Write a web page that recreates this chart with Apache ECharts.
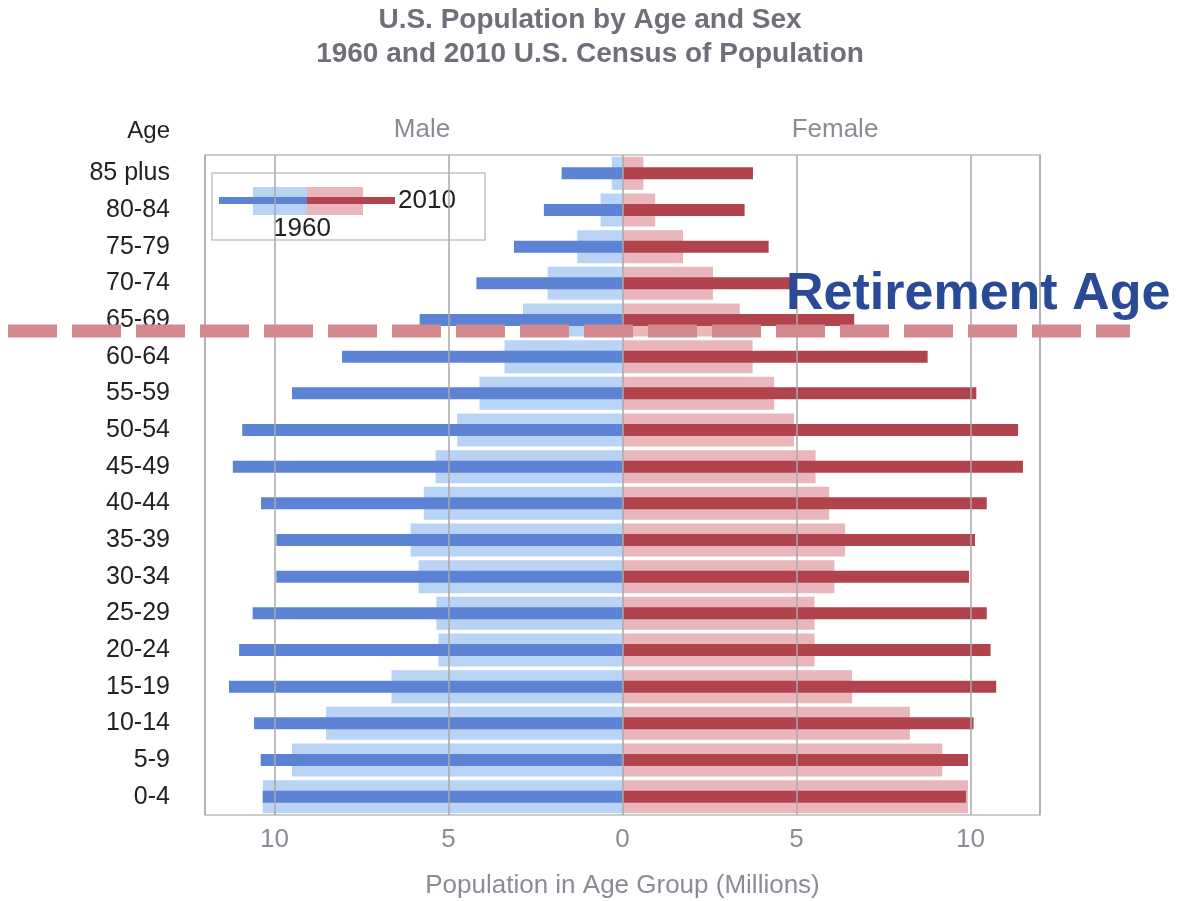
<!DOCTYPE html>
<html>
<head>
<meta charset="utf-8">
<title>U.S. Population by Age and Sex</title>
<script src="https://cdn.jsdelivr.net/npm/echarts@6/dist/echarts.min.js"></script>
<style>
  html, body { margin: 0; padding: 0; background: #fff; }
  #chart { width: 1180px; height: 901px; }
</style>
</head>
<body>
<div id="chart"></div>
<script>
// age groups, bottom to top
const ageGroups = ['0-4', '5-9', '10-14', '15-19', '20-24', '25-29', '30-34', '35-39', '40-44',
  '45-49', '50-54', '55-59', '60-64', '65-69', '70-74', '75-79', '80-84', '85 plus']

// millions
const male1960 = [10.34, 9.5, 8.52, 6.64, 5.29, 5.35, 5.86, 6.09, 5.71, 5.37, 4.75, 4.11, 3.39, 2.86, 2.15, 1.3, 0.63, 0.31]
const female1960 = [9.93, 9.19, 8.26, 6.6, 5.52, 5.52, 6.09, 6.4, 5.94, 5.55, 4.93, 4.36, 3.74, 3.37, 2.6, 1.74, 0.94, 0.6]
const male2010 = [10.34, 10.4, 10.59, 11.31, 11.02, 10.63, 9.95, 9.95, 10.39, 11.2, 10.93, 9.5, 8.06, 5.83, 4.2, 3.12, 2.26, 1.75]
const female2010 = [9.87, 9.93, 10.09, 10.74, 10.58, 10.47, 9.96, 10.13, 10.47, 11.51, 11.37, 10.17, 8.77, 6.66, 5.0, 4.2, 3.51, 3.75]

const years = ['1960', '2010']
const fontFamily = '"Liberation Sans", Arial, sans-serif'

const colors = {
  male1960: '#b8d3f4',
  female1960: '#e9b7bb',
  male2010: '#5b82d3',
  female2010: '#b0434c'
}

const chart = echarts.init(document.getElementById('chart'))

const option = {
  backgroundColor: '#fff',
  animation: false,
  textStyle: { fontFamily: fontFamily },
  title: {
    text: 'U.S. Population by Age and Sex\n1960 and 2010 U.S. Census of Population',
    left: 'center',
    top: -2,
    textStyle: {
      fontFamily: fontFamily,
      fontSize: 28,
      fontWeight: 'bold',
      color: '#6f6f7a',
      lineHeight: 34
    }
  },
  grid: {
    left: 205,
    right: 140,
    top: 155,
    bottom: 86,
    outerBoundsMode: 'none',
    show: true,
    borderColor: '#bdbdbd',
    borderWidth: 1.5,
    backgroundColor: '#fff'
  },
  xAxis: {
    type: 'value',
    min: -12,
    max: 12,
    z: 3,
    name: 'Population in Age Group (Millions)',
    nameLocation: 'middle',
    nameGap: 58,
    nameTextStyle: { fontSize: 26, color: '#8b8b96', fontFamily: fontFamily },
    axisLine: { show: false },
    axisTick: { show: false },
    axisLabel: {
      fontSize: 26,
      color: '#8b8b96',
      margin: 12,
      formatter: (v) => (v % 5 === 0 ? String(Math.abs(v)) : '')
    },
    splitLine: {
      show: true,
      lineStyle: { color: '#a8a8ad', width: 1.5 }
    }
  },
  yAxis: [
    {
      type: 'category',
      data: ageGroups,
      axisLine: { show: false },
      axisTick: { show: false },
      axisLabel: { fontSize: 25, color: '#222', margin: 35 }
    },
    {
      type: 'category',
      data: ageGroups,
      show: false
    }
  ],
  series: [
    {
      name: 'Male ' + years[0],
      type: 'bar',
      yAxisIndex: 0,
      stack: 'y1960',
      barWidth: 33,
      itemStyle: { color: colors.male1960 },
      data: male1960.map(v => -v)
    },
    {
      name: 'Female ' + years[0],
      type: 'bar',
      yAxisIndex: 0,
      stack: 'y1960',
      barWidth: 33,
      itemStyle: { color: colors.female1960 },
      data: female1960
    },
    {
      name: 'Male ' + years[1],
      type: 'bar',
      yAxisIndex: 1,
      stack: 'y2010',
      barWidth: 12,
      itemStyle: { color: colors.male2010 },
      data: male2010.map(v => -v)
    },
    {
      name: 'Female ' + years[1],
      type: 'bar',
      yAxisIndex: 1,
      stack: 'y2010',
      barWidth: 12,
      itemStyle: { color: colors.female2010 },
      data: female2010
    }
  ],
  graphic: [
    // column headers
    {
      type: 'text', x: 170, y: 131, z: 10,
      style: { text: 'Age', fill: '#222', font: '24px ' + fontFamily, align: 'right', verticalAlign: 'middle' }
    },
    {
      type: 'text', x: 422, y: 130, z: 10,
      style: { text: 'Male', fill: '#8b8b96', font: '26px ' + fontFamily, align: 'center', verticalAlign: 'middle' }
    },
    {
      type: 'text', x: 835, y: 130, z: 10,
      style: { text: 'Female', fill: '#8b8b96', font: '26px ' + fontFamily, align: 'center', verticalAlign: 'middle' }
    },
    // legend box
    {
      type: 'group', x: 212, y: 173, z: 20,
      children: [
        { type: 'rect', shape: { x: 0, y: 0, width: 273, height: 67 }, style: { fill: '#fff', stroke: '#c4c4c4', lineWidth: 1.5 } },
        { type: 'rect', shape: { x: 41, y: 14, width: 54, height: 28 }, style: { fill: colors.male1960 } },
        { type: 'rect', shape: { x: 95, y: 14, width: 56, height: 28 }, style: { fill: colors.female1960 } },
        { type: 'rect', shape: { x: 7, y: 24, width: 88, height: 7 }, style: { fill: colors.male2010 } },
        { type: 'rect', shape: { x: 95, y: 24, width: 88, height: 7 }, style: { fill: colors.female2010 } },
        { type: 'text', style: { text: years[1], x: 186, y: 28, fill: '#222', font: '26px ' + fontFamily, verticalAlign: 'middle' } },
        { type: 'text', style: { text: years[0], x: 90, y: 56, fill: '#222', font: '26px ' + fontFamily, align: 'center', verticalAlign: 'middle' } }
      ]
    },
    // retirement annotation
    {
      type: 'text', x: 786, y: 295, z: 30,
      style: { text: 'Retirement Age', fill: '#2a4996', font: 'bold 52px ' + fontFamily, verticalAlign: 'middle' }
    },
    {
      type: 'line', z: 40,
      shape: { x1: 8, y1: 331, x2: 1130, y2: 331 },
      style: { stroke: '#d4898f', lineWidth: 13, lineDash: [49, 15] }
    }
  ]
}

chart.setOption(option)
</script>
</body>
</html>
